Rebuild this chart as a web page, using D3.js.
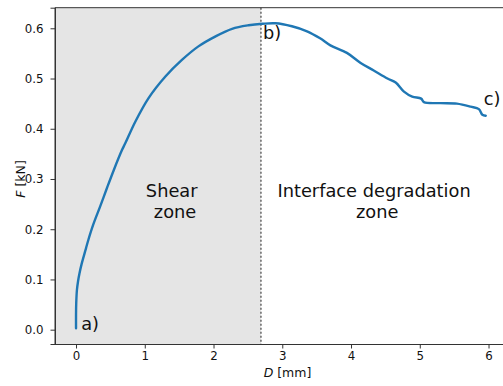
<!DOCTYPE html>
<html>
<head>
<meta charset="utf-8">
<script src="https://cdn.jsdelivr.net/npm/d3@7"></script>
<style>
  html, body { margin: 0; padding: 0; background: #fff; }
  svg { display: block; font-family: "DejaVu Sans", sans-serif; }
</style>
</head>
<body>
<svg id="chart" width="503" height="386"></svg>
<script>
// ---- data ----
const dispMM = [0, 0.0, 0.003, 0.013, 0.03, 0.05, 0.08, 0.11, 0.145, 0.18, 0.25, 0.35, 0.45, 0.55, 0.67, 0.716, 0.862, 1.055, 1.30, 1.54, 1.78, 2.03, 2.27, 2.51, 2.71, 2.90, 3.14, 3.36, 3.55, 3.70, 3.94, 4.14, 4.33, 4.53, 4.65, 4.77, 4.89, 5.02, 5.06, 5.30, 5.54, 5.74, 5.86, 5.91, 5.96];
const forceKN = [0.003, 0.03, 0.053, 0.079, 0.097, 0.112, 0.13, 0.145, 0.162, 0.179, 0.209, 0.245, 0.282, 0.318, 0.358, 0.371, 0.414, 0.461, 0.504, 0.537, 0.564, 0.584, 0.599, 0.606, 0.609, 0.610, 0.604, 0.594, 0.580, 0.566, 0.551, 0.531, 0.516, 0.500, 0.492, 0.474, 0.464, 0.460, 0.453, 0.451, 0.450, 0.444, 0.439, 0.428, 0.426];
const xTicks = [0, 1, 2, 3, 4, 5, 6];
const yTicks = [0.0, 0.1, 0.2, 0.3, 0.4, 0.5, 0.6];
const zoneBoundary = 2.69;
const zoneLabels = [
  { lines: ["Shear", "zone"], x: [1.392, 1.44], y: [0.265, 0.223] },
  { lines: ["Interface degradation", "zone"], x: [4.335, 4.38], y: [0.264, 0.222] }
];
const pointLabels = [
  { text: "a)", x: 0.075, y: 0.0 },
  { text: "b)", x: 2.72, y: 0.578 },
  { text: "c)", x: 5.93, y: 0.448 }
];

// ---- layout ----
const svg = d3.select("#chart");
const L = 55, T = 7.7, B = 344;
const x = d3.scaleLinear().domain([-0.3, 6.3]).range([L + 0.4, L + 0.4 + 6.6 * 68.75]);
const y = d3.scaleLinear().domain([-0.0285, 0.641]).range([B, T]);

// shaded shear zone
svg.append("rect")
  .attr("x", L).attr("y", T)
  .attr("width", x(zoneBoundary) - L)
  .attr("height", B - T)
  .attr("fill", "#e5e5e5");

// dotted boundary
svg.append("line")
  .attr("x1", x(zoneBoundary)).attr("x2", x(zoneBoundary))
  .attr("y1", T).attr("y2", B)
  .attr("stroke", "#444").attr("stroke-width", 1.2)
  .attr("stroke-dasharray", "2,2");

// curve
const pts = dispMM.map((d, i) => [d, forceKN[i]]);
svg.append("path")
  .datum(pts)
  .attr("fill", "none")
  .attr("stroke", "#1f77b4")
  .attr("stroke-width", 2.4)
  .attr("stroke-linejoin", "round")
  .attr("stroke-linecap", "round")
  .attr("d", d3.line().x(d => x(d[0])).y(d => y(d[1])).curve(d3.curveCatmullRom.alpha(0.5)));

// spines
svg.append("line").attr("x1", L).attr("x2", L).attr("y1", T).attr("y2", B).attr("stroke", "#333").attr("stroke-width", 1);
svg.append("line").attr("x1", L).attr("x2", 503).attr("y1", T).attr("y2", T).attr("stroke", "#333").attr("stroke-width", 1);

// axes
const xAxis = svg.append("g").attr("transform", `translate(0,${B})`)
  .call(d3.axisBottom(x).tickValues(xTicks).tickFormat(d3.format("d")).tickSize(4.5).tickPadding(3.5));
const yAxis = svg.append("g").attr("transform", `translate(${L},0)`)
  .call(d3.axisLeft(y).tickValues(yTicks).tickFormat(d3.format(".1f")).tickSize(4.5).tickPadding(7));
[xAxis, yAxis].forEach(g => {
  g.select(".domain").attr("stroke", "#333").attr("stroke-width", 1);
  g.selectAll(".tick line").attr("stroke", "#333").attr("stroke-width", 1);
  g.selectAll(".tick text").attr("fill", "#111").style("font-size", "11.8px").style("font-family", "DejaVu Sans");
});
xAxis.select(".domain").attr("d", `M${L},0.5H503`);

// axis labels
const xl = svg.append("text").attr("x", 287.5).attr("y", 376.5).attr("text-anchor", "middle")
  .style("font-size", "12.5px").attr("fill", "#111");
xl.append("tspan").style("font-style", "italic").text("D");
xl.append("tspan").text(" [mm]");
const yl = svg.append("text").attr("transform", "translate(24.5,179) rotate(-90)").attr("text-anchor", "middle")
  .style("font-size", "12.5px").attr("fill", "#111");
yl.append("tspan").style("font-style", "italic").text("F");
yl.append("tspan").text(" [kN]");

// zone labels
zoneLabels.forEach(z => {
  z.lines.forEach((t, i) => {
    svg.append("text").attr("x", x(z.x[i])).attr("y", y(z.y[i]))
      .attr("text-anchor", "middle").style("font-size", "17.8px").attr("fill", "#111").text(t);
  });
});

// point labels
pointLabels.forEach(p => {
  svg.append("text").attr("x", x(p.x)).attr("y", y(p.y))
    .style("font-size", "17.8px").attr("fill", "#111").text(p.text);
});
</script>
</body>
</html>
